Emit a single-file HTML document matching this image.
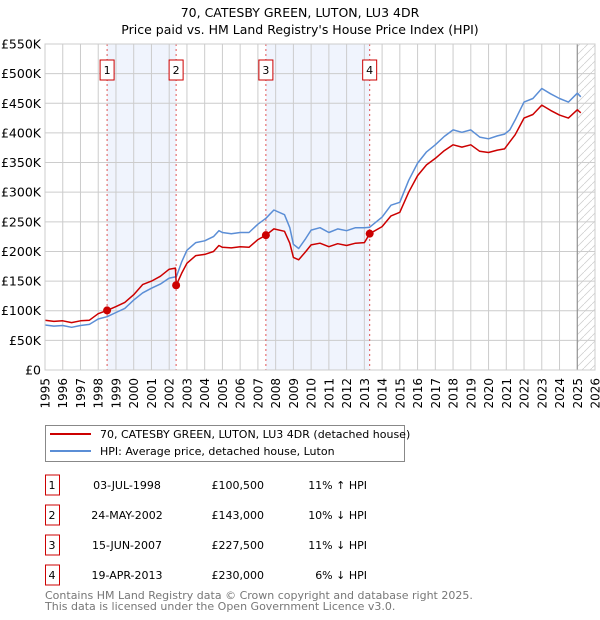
<!DOCTYPE html>
<html><head><meta charset="utf-8"><style>
body{margin:0;background:#fff;font-family:"Liberation Sans","DejaVu Sans",sans-serif}
svg{display:block}
text{font-family:"DejaVu Sans","Liberation Sans",sans-serif}
</style></head><body>
<svg id="chart" width="600" height="620" viewBox="0 0 600 620">
<text x="300" y="17" text-anchor="middle" font-size="12.5" fill="#000">70, CATESBY GREEN, LUTON, LU3 4DR</text>
<text x="300" y="34" text-anchor="middle" font-size="12.5" fill="#000">Price paid vs. HM Land Registry's House Price Index (HPI)</text>
<g id="plot"></g>
<g>
<rect x="45.5" y="425.5" width="359" height="36" fill="#fff" stroke="#888"/>
<line x1="50" y1="434" x2="91" y2="434" stroke="#cc0000" stroke-width="2"/>
<text x="100" y="438" font-size="11">70, CATESBY GREEN, LUTON, LU3 4DR (detached house)</text>
<line x1="50" y1="451" x2="91" y2="451" stroke="#5b8ed6" stroke-width="2"/>
<text x="100" y="455" font-size="11">HPI: Average price, detached house, Luton</text>
</g>
<g id="table" font-size="11"></g>
<text x="45" y="599" font-size="11" fill="#777">Contains HM Land Registry data © Crown copyright and database right 2025.</text>
<text x="45" y="610" font-size="11" fill="#777">This data is licensed under the Open Government Licence v3.0.</text>
</svg>
<script>
const hpiYears=[1995,1995.5,1996,1996.5,1997,1997.5,1998,1998.5,1999,1999.5,2000,2000.5,2001,2001.5,2002,2002.35,2002.4,2002.7,2003,2003.5,2004,2004.5,2004.8,2005,2005.5,2006,2006.5,2007,2007.45,2007.9,2008.5,2008.8,2009,2009.3,2009.7,2010,2010.5,2011,2011.5,2012,2012.5,2013,2013.3,2014,2014.5,2015,2015.5,2016,2016.5,2017,2017.5,2018,2018.5,2019,2019.5,2020,2020.5,2020.9,2021.2,2021.5,2022,2022.5,2023,2023.5,2024,2024.5,2025,2025.2];
const hpiValues=[76,74,75,72,75,77,86,90,97,104,118,130,138,145,155,157,157,182,202,215,218,225,235,232,230,232,232,246,256,270,262,240,212,205,222,236,240,232,238,235,240,240,241,258,278,283,320,349,368,380,394,405,401,405,393,390,395,398,405,422,452,458,475,466,458,452,467,461];
const priceValues=[84,82,83,80,83,84,95,100.5,107,114,127,144,150,158,170,172,143,163,180,193,195,200,210,207,206,208,207,220,227.5,238,234,214,190,186,200,211,214,208,213,210,214,215,230,242,260,266,300,328,346,357,370,380,376,380,369,367,371,373,385,397,425,431,447,438,430,425,439,434];
const saleLabels=["1","2","3","4"];
const saleYears=[1998.5,2002.39,2007.45,2013.3];
const salePrices=[100.5,143,227.5,230];
const saleDates=["03-JUL-1998","24-MAY-2002","15-JUN-2007","19-APR-2013"];
const salePriceText=["£100,500","£143,000","£227,500","£230,000"];
const saleHpiText=["11% ↑ HPI","10% ↓ HPI","11% ↓ HPI","6% ↓ HPI"];
const yTicks=[0,50,100,150,200,250,300,350,400,450,500,550];
const yTickLabels=["£0","£50K","£100K","£150K","£200K","£250K","£300K","£350K","£400K","£450K","£500K","£550K"];
const xTicks=[1995,1996,1997,1998,1999,2000,2001,2002,2003,2004,2005,2006,2007,2008,2009,2010,2011,2012,2013,2014,2015,2016,2017,2018,2019,2020,2021,2022,2023,2024,2025,2026];
const dataEnd=2025.0;

const L=45,R=595,T=44,B=370,X0=1995,X1=2026,YMAX=550;
const xs=v=>L+(v-X0)/(X1-X0)*(R-L);
const ys=v=>B-v/YMAX*(B-T);
const NS="http://www.w3.org/2000/svg";
const plot=document.getElementById('plot');
function mk(tag,attrs,parent){const e=document.createElementNS(NS,tag);for(const k in attrs)e.setAttribute(k,attrs[k]);(parent||plot).appendChild(e);return e;}

for(let i=0;i<saleYears.length;i+=2){
  const r=mk('rect',{x:xs(saleYears[i]),y:T,width:xs(saleYears[i+1])-xs(saleYears[i]),height:B-T,fill:'#f0f4fd'});
  
  
}
const defs=mk('defs',{});
const pat=mk('pattern',{id:'hatch',width:8,height:8,patternUnits:'userSpaceOnUse'},defs);
mk('path',{d:'M0,8 L8,0',stroke:'#ccc','stroke-width':0.7},pat);
const hr=mk('rect',{x:xs(dataEnd),y:T,width:R-xs(dataEnd),height:B-T,fill:'url(#hatch)'});


yTicks.forEach((v,i)=>{
  const g=mk('line',{x1:L,x2:R,y1:ys(v),y2:ys(v),stroke:'#ccc','stroke-width':1});
  
  
  const t=mk('text',{x:L-4,y:ys(v)+4.5,'text-anchor':'end','font-size':12.5});
  t.textContent=yTickLabels[i];
  
  
});
xTicks.forEach(v=>{
  const g=mk('line',{x1:xs(v),x2:xs(v),y1:T,y2:B,stroke:'#ccc','stroke-width':1});
  
  
  const x=xs(v)+4.5, y=B+8;
  const t=mk('text',{x:x,y:y,'text-anchor':'end','font-size':12,transform:'rotate(-90 '+x+' '+y+')'});
  t.textContent=v;
  
  
});
const dl=mk('line',{x1:xs(dataEnd),x2:xs(dataEnd),y1:T,y2:B,stroke:'#888','stroke-width':1});


saleYears.forEach((v,i)=>{
  const l=mk('line',{x1:xs(v),x2:xs(v),y1:T,y2:B,stroke:'#e05555','stroke-width':1,'stroke-dasharray':'2,3'});
  
  
  const b=mk('rect',{x:xs(v)-7,y:60,width:14,height:20,fill:'#fff',stroke:'#cc0000','stroke-width':1});
  
  
  const t=mk('text',{x:xs(v),y:74,'text-anchor':'middle','font-size':11});
  t.textContent=saleLabels[i];
  
  
});
function series(vals,color,name){
  const d=hpiYears.map((t,i)=>(i?'L':'M')+xs(t).toFixed(1)+','+ys(vals[i]).toFixed(1)).join(' ');
  const p=mk('path',{d:d,fill:'none',stroke:color,'stroke-width':1.5,'stroke-linejoin':'round'});
  
  
}
series(hpiValues,'#5b8ed6','hpi-line');
series(priceValues,'#cc0000','price-paid-line');
saleYears.forEach((v,i)=>{
  const c=mk('circle',{cx:xs(v),cy:ys(salePrices[i]),r:4,fill:'#cc0000'});
  
  
});
const bd=mk('rect',{x:L,y:T,width:R-L,height:B-T,fill:'none',stroke:'#ccc'});



const tbl=document.getElementById('table');
saleLabels.forEach((s,i)=>{
  const y=492+i*30;
  const b=mk('rect',{x:45.5,y:y-17,width:14,height:20,fill:'#fff',stroke:'#cc0000'},tbl);
  
  
  const cells=[[52,'middle',s],[127,'middle',saleDates[i]],[264,'end',salePriceText[i]],[367,'end',saleHpiText[i]]];
  cells.forEach(c=>{
    const t=mk('text',{x:c[0],y:y-3,'text-anchor':c[1],'font-size':11},tbl);
    t.textContent=c[2];
    
    
  });
});
</script>
</body></html>
